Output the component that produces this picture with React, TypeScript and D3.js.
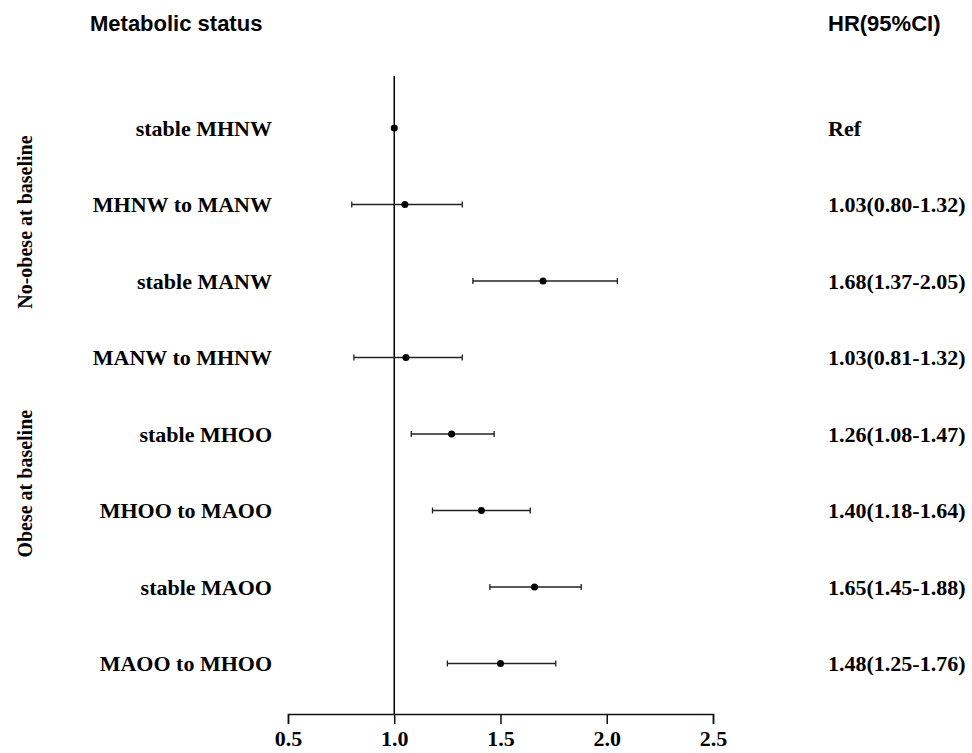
import React, { useEffect, useRef } from "react";
import * as d3 from "d3";

const labels = [
  "stable MHNW",
  "MHNW to MANW",
  "stable MANW",
  "MANW to MHNW",
  "stable MHOO",
  "MHOO to MAOO",
  "stable MAOO",
  "MAOO to MHOO",
];
const hr = [1.0, 1.05, 1.7, 1.055, 1.27, 1.41, 1.66, 1.5];
const lower: (number | null)[] = [null, 0.8, 1.37, 0.81, 1.08, 1.18, 1.45, 1.25];
const upper: (number | null)[] = [null, 1.32, 2.05, 1.32, 1.47, 1.64, 1.88, 1.76];
const hrText = [
  "Ref",
  "1.03(0.80-1.32)",
  "1.68(1.37-2.05)",
  "1.03(0.81-1.32)",
  "1.26(1.08-1.47)",
  "1.40(1.18-1.64)",
  "1.65(1.45-1.88)",
  "1.48(1.25-1.76)",
];
const groupLabels = ["No-obese at baseline", "Obese at baseline"];
const groupRowPos = [1.23, 4.65]; // in row-index units
const xTicks = [0.5, 1.0, 1.5, 2.0, 2.5];

const W = 972;
const H = 753;
const serif = "'Liberation Serif', 'Times New Roman', serif";
const sans = "'Liberation Sans', Arial, sans-serif";

export default function App() {
  const axisRef = useRef<SVGGElement | null>(null);
  const x = d3.scaleLinear().domain([0.5, 2.5]).range([288, 713]);
  const y = d3.scaleLinear().domain([0, labels.length - 1]).range([128, 663.5]);
  const axisY = 714;

  useEffect(() => {
    if (!axisRef.current) return;
    const g = d3.select(axisRef.current);
    g.selectAll("*").remove();
    g.call(
      d3
        .axisBottom(x)
        .tickValues(xTicks)
        .tickFormat(d3.format(".1f"))
        .tickSize(10)
        .tickSizeOuter(10)
        .tickPadding(6)
    );
    g.select(".domain").attr("stroke", "#111").attr("stroke-width", 1.5);
    g.selectAll(".tick line").attr("stroke", "#111").attr("stroke-width", 1.5);
    g.selectAll(".tick text")
      .attr("fill", "#000")
      .style("font-family", serif)
      .style("font-weight", "bold")
      .style("font-size", "22px");
  }, []);

  return (
    <svg
      width={W}
      height={H}
      style={{ position: "absolute", left: 0, top: 0, background: "#fff" }}
    >
      <rect x={0} y={0} width={W} height={H} fill="#fff" />
      <text x={90} y={31} fontFamily={sans} fontWeight="bold" fontSize={22} fill="#000">
        Metabolic status
      </text>
      <text x={828} y={31} fontFamily={sans} fontWeight="bold" fontSize={22} fill="#000">
        HR(95%CI)
      </text>

      {groupLabels.map((g, i) => (
        <text
          key={g}
          transform={`translate(32, ${y(groupRowPos[i])}) rotate(-90)`}
          textAnchor="middle"
          fontFamily={serif}
          fontWeight="bold"
          fontSize={20}
          fill="#000"
        >
          {g}
        </text>
      ))}

      <line x1={x(1)} x2={x(1)} y1={76} y2={axisY} stroke="#000" strokeWidth={1.5} />

      {labels.map((l, i) => (
        <g key={l}>
          <text
            x={272}
            y={y(i)}
            dy="0.35em"
            textAnchor="end"
            fontFamily={serif}
            fontWeight="bold"
            fontSize={22}
            fill="#000"
          >
            {l}
          </text>
          {lower[i] !== null && upper[i] !== null && (
            <g stroke="#222" strokeWidth={1.3}>
              <line x1={x(lower[i] as number)} x2={x(upper[i] as number)} y1={y(i)} y2={y(i)} />
              <line x1={x(lower[i] as number)} x2={x(lower[i] as number)} y1={y(i) - 3} y2={y(i) + 3} />
              <line x1={x(upper[i] as number)} x2={x(upper[i] as number)} y1={y(i) - 3} y2={y(i) + 3} />
            </g>
          )}
          <circle cx={x(hr[i])} cy={y(i)} r={3.5} fill="#000" />
          <text
            x={828}
            y={y(i)}
            dy="0.35em"
            fontFamily={serif}
            fontWeight="bold"
            fontSize={22}
            fill="#000"
          >
            {hrText[i]}
          </text>
        </g>
      ))}

      <g ref={axisRef} transform={`translate(0, ${axisY})`} />
    </svg>
  );
}
